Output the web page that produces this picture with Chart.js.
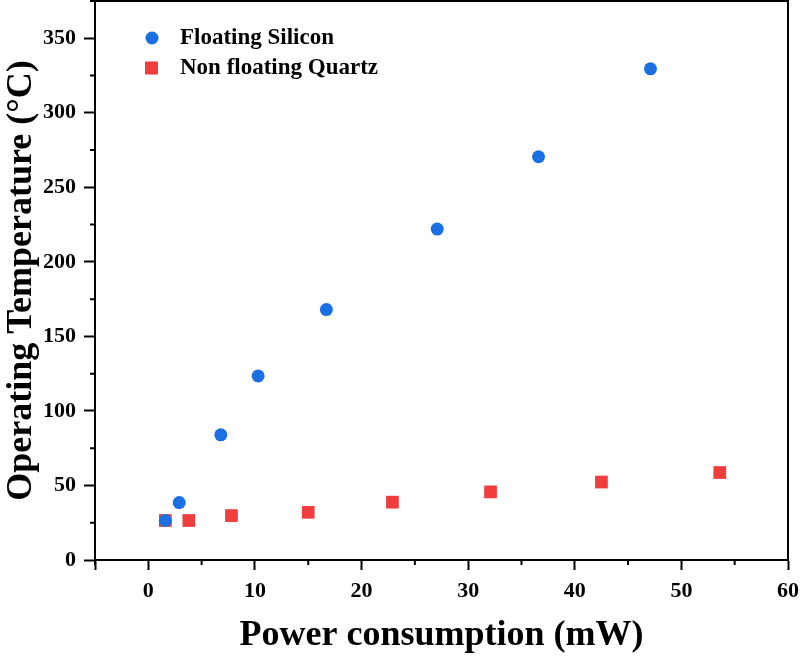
<!DOCTYPE html>
<html>
<head>
<meta charset="utf-8">
<script src="https://cdn.jsdelivr.net/npm/chart.js@4.4.1/dist/chart.umd.min.js"></script>
<style>
  html, body { margin: 0; padding: 0; background: #fff; overflow: hidden; }
  #wrap { width: 800px; height: 659px; overflow: hidden; }
  /* Chart.js deja ~8px arriba por la etiqueta superior; se sube el canvas */
  #tempChart { display: block; margin-top: -8px; }
</style>
</head>
<body>
<div id="wrap"><canvas id="tempChart" width="800" height="666"></canvas></div>
<script>
// datos
const siliconPower = [1.6, 2.9, 6.8, 10.3, 16.7, 27.1, 36.6, 47.1];
const siliconTemp = [26.5, 38.5, 84, 123.5, 168, 222, 270.5, 329.5];
const quartzPower = [1.6, 3.8, 7.8, 15.0, 22.9, 32.1, 42.5, 53.6];
const quartzTemp = [26.5, 26.5, 29.8, 32, 38.8, 45.7, 52.3, 58.7];
const seriesLabels = ['Floating Silicon', 'Non floating Quartz'];
const xTitle = 'Power consumption (mW)';
const yTitle = 'Operating Temperature (°C)';

const BLUE = '#1a6fe3';
const RED = '#f03d3d';
const FONT = '"Liberation Serif", "Times New Roman", serif';

function toPoints(xs, ys) {
  return xs.map((x, i) => ({ x: x, y: ys[i] }));
}

// marco completo, ticks menores y leyenda dentro del area
const framePlugin = {
  id: 'frame',
  afterDraw(chart) {
    const { ctx, chartArea: a, scales } = chart;
    ctx.save();
    ctx.strokeStyle = '#000';
    ctx.lineWidth = 2;
    ctx.strokeRect(a.left, a.top, a.right - a.left, a.bottom - a.top);

    // ticks menores
    ctx.beginPath();
    for (let v = -5; v <= 60; v += 10) {
      const px = scales.x.getPixelForValue(v);
      ctx.moveTo(px, a.bottom);
      ctx.lineTo(px, a.bottom + 5);
    }
    for (let v = 25; v <= 375; v += 50) {
      const py = scales.y.getPixelForValue(v);
      ctx.moveTo(a.left, py);
      ctx.lineTo(a.left - 5, py);
    }
    ctx.stroke();

    // leyenda
    const lx = a.left + 57;
    const ly = a.top + 37;
    ctx.fillStyle = BLUE;
    ctx.beginPath();
    ctx.arc(lx, ly, 6.5, 0, Math.PI * 2);
    ctx.fill();
    ctx.fillStyle = RED;
    ctx.fillRect(lx - 7, ly + 30 - 6.5, 13, 13);
    ctx.fillStyle = '#000';
    ctx.font = 'bold 23px ' + FONT;
    ctx.textBaseline = 'middle';
    ctx.fillText(seriesLabels[0], lx + 28, ly);
    ctx.fillText(seriesLabels[1], lx + 28, ly + 30);
    ctx.restore();
  }
};

const ctx = document.getElementById('tempChart').getContext('2d');
const chart = new Chart(ctx, {
  type: 'scatter',
  data: {
    datasets: [
      {
        label: seriesLabels[0],
        data: toPoints(siliconPower, siliconTemp),
        backgroundColor: BLUE,
        borderWidth: 0,
        pointStyle: 'circle',
        pointRadius: 6.5
      },
      {
        label: seriesLabels[1],
        data: toPoints(quartzPower, quartzTemp),
        backgroundColor: RED,
        borderWidth: 0,
        pointStyle: 'rect',
        pointRadius: 9
      }
    ]
  },
  options: {
    responsive: false,
    animation: false,
    layout: { padding: { top: 1, right: 12, left: 0, bottom: 0 } },
    plugins: {
      legend: { display: false },
      tooltip: { enabled: false }
    },
    scales: {
      x: {
        type: 'linear',
        min: -5,
        max: 60,
        afterFit(scale) {
          scale.height = 98;
          scale.paddingLeft = 0;
          scale.paddingRight = 0;
        },
        border: { color: '#000', width: 2 },
        grid: {
          drawOnChartArea: false,
          tickLength: 10,
          tickWidth: 2,
          tickColor: '#000'
        },
        ticks: {
          stepSize: 10,
          color: '#000',
          padding: 8,
          font: { family: FONT, size: 22, weight: 'bold' },
          callback: (v) => (v < 0 ? '' : v)
        },
        title: {
          display: true,
          text: xTitle,
          color: '#000',
          padding: { top: 0, bottom: 1 },
          font: { family: FONT, size: 36, weight: 'bold' }
        }
      },
      y: {
        type: 'linear',
        min: 0,
        max: 375,
        afterFit(scale) {
          scale.width = 95;
          scale.paddingTop = 0;
          scale.paddingBottom = 0;
        },
        afterBuildTicks(scale) {
          scale.ticks = scale.ticks.filter(t => t.value % 50 === 0);
        },
        border: { color: '#000', width: 2 },
        grid: {
          drawOnChartArea: false,
          tickLength: 11,
          tickWidth: 2,
          tickColor: '#000'
        },
        ticks: {
          stepSize: 50,
          color: '#000',
          padding: 8,
          font: { family: FONT, size: 22, weight: 'bold' }
        },
        title: {
          display: true,
          text: yTitle,
          color: '#000',
          padding: { top: 0, bottom: 0 },
          font: { family: FONT, size: 36, weight: 'bold' }
        }
      }
    }
  },
  plugins: [framePlugin]
});
</script>
</body>
</html>
